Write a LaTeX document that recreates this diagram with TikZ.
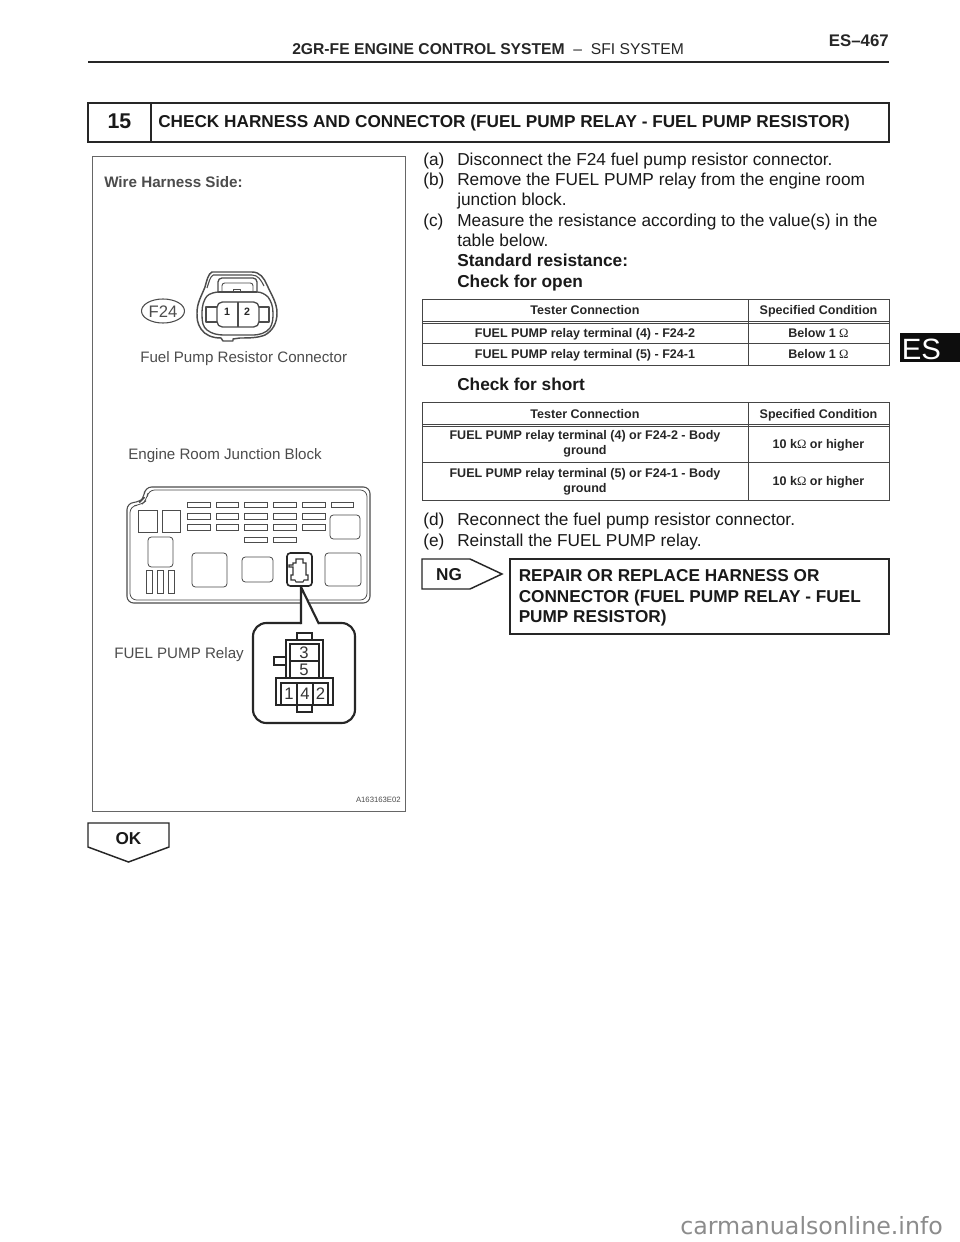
\documentclass[tikz,border=0pt]{standalone}
\usepackage{fontspec}
\setmainfont{Liberation Sans}
\newfontfamily\symfont{DejaVu Sans}
\newfontfamily\serifsym{Liberation Serif}
\definecolor{figgray}{gray}{0.3}
\definecolor{boxgray}{gray}{0.4}
\definecolor{rulegray}{gray}{0.27}
\newcommand{\Om}{{\serifsym\mdseries\fontsize{9.5}{9.5}\selectfont Ω}}
\begin{document}
\begin{tikzpicture}[x=0.75pt,y=-0.75pt,
  body/.style={anchor=base west,inner sep=0pt,font=\fontsize{12.95}{14}\selectfont,text=black!90},
  bodyb/.style={body,font=\fontsize{12.95}{14}\selectfont\bfseries},
  tcell/.style={anchor=center,inner sep=0pt,align=center,text height=6.8pt,text depth=0pt,font=\fontsize{9.4}{12}\selectfont\bfseries,text=black!85},
  tcellm/.style={anchor=center,inner sep=0pt,align=center,font=\fontsize{9.4}{12}\selectfont\bfseries,text=black!85},
  figlabel/.style={anchor=base west,inner sep=0pt,font=\fontsize{11.35}{13}\selectfont,text=figgray},
  pin/.style={anchor=center,inner sep=0pt,font=\fontsize{12.5}{13}\selectfont,text=black!80},
  fuse/.style={draw=figgray,line width=0.6pt},
  heavy/.style={draw=black!85,line width=1.5pt},
  tabline/.style={draw=rulegray,line width=0.75pt},
  arrowbox/.style={draw=black!85,line width=1.1pt,line join=miter},
  rel/.style={draw=black!85,line width=0.9pt}]
\useasboundingbox (0,0) rectangle (960,1242);
\fill[white] (0,0) rectangle (960,1242);

% page header
\node[anchor=base west,inner sep=0pt,font=\fontsize{11.75}{13}\selectfont,text=black!85] (hdr) at (292,54) {\textbf{2GR-FE ENGINE CONTROL SYSTEM}\ \ –\ \ SFI SYSTEM};
\node[anchor=base east,inner sep=0pt,font=\fontsize{12.6}{14}\selectfont\bfseries,text=black!85] (pg) at (889,46) {ES–467};
\draw[black!85,line width=1.6pt] (88,62) -- (889,62);
\fill[black!95] (900,333) rectangle (960,362);
\node[anchor=base west,inner sep=0pt,white,font=\fontsize{22}{24}\selectfont] (tab) at (901.5,359) {ES};

% step box
\draw[heavy] (88,103) rectangle (889,142);
\draw[heavy] (151,103) -- (151,142);
\node[anchor=center,inner sep=0pt,font=\fontsize{16}{18}\selectfont\bfseries,text=black!90] (num) at (119.5,121) {15};
\node[anchor=base west,inner sep=0pt,font=\fontsize{12.9}{14}\selectfont\bfseries,text=black!90] (title) at (158,127) {CHECK HARNESS AND CONNECTOR (FUEL PUMP RELAY - FUEL PUMP RESISTOR)};

% figure frame
\draw[boxgray,line width=0.75pt] (92,156) rectangle (405,811);
\node[anchor=base west,inner sep=0pt,font=\fontsize{11.4}{13}\selectfont\bfseries,text=figgray] (wh) at (104,187) {Wire Harness Side:};
\draw[figgray,line width=0.8pt] (163,311) ellipse (21.5 and 12);
\node[anchor=center,inner sep=0pt,font=\fontsize{12.5}{13}\selectfont,text=figgray] (f24) at (163,311.5) {F24};

% connector F24
\begin{scope}[figgray,line width=1.1pt,line join=round]
\draw (212,272) -- (252,272) .. controls (260,272) and (264,278) .. (267,285)
  .. controls (272,296) and (277,303) .. (277,313) .. controls (277,324) and (272,331) .. (265,335)
  .. controls (258,338) and (248,338) .. (240,338) -- (233,339) -- (233,341) -- (223,341) -- (221,338)
  .. controls (212,338) and (205,335) .. (201,329) .. controls (197,323) and (197,318) .. (197,313)
  .. controls (197,303) and (201,297) .. (205,287) .. controls (207,280) and (208,274) .. (212,272) -- cycle;
\draw[line width=0.8pt] (213,275) -- (252,275) .. controls (258,275) and (261,280) .. (264,286);
\draw[line width=0.8pt] (213,275) .. controls (210,277) and (209,282) .. (207,288);
\draw[line width=1pt,rounded corners=3] (218,292) -- (218,278) -- (257,278) -- (257,292);
\draw[line width=0.7pt,rounded corners=2] (222,292) -- (222,283) -- (253,283) -- (253,292);
\draw[line width=0.7pt] (233,292) -- (233,289) -- (240,289) -- (240,292);
\draw[line width=1pt] (218,292) -- (257,292);
\draw[line width=1pt] (218,292) .. controls (210,293) and (207,295) .. (205,299)
  .. controls (202,305) and (202,310) .. (202,315) .. controls (202,322) and (203,327) .. (207,330)
  .. controls (212,334) and (218,335) .. (224,335) -- (252,335)
  .. controls (260,335) and (266,333) .. (270,328) .. controls (273,323) and (273,318) .. (273,313)
  .. controls (273,306) and (271,301) .. (268,297) .. controls (265,294) and (261,292) .. (257,292);
\draw[line width=1pt,rounded corners=4] (217,302) rectangle (259,327);
\draw[line width=0.8pt] (238,302) -- (238,327);
\draw[line width=0.8pt] (217,307) -- (206,307) -- (206,322) -- (217,322);
\draw[line width=0.8pt] (259,307) -- (269,307) -- (269,322) -- (259,322);
\end{scope}
\node[anchor=center,inner sep=0pt,font=\fontsize{8}{9}\selectfont\bfseries,text=black!85] (c1) at (227,312) {1};
\node[anchor=center,inner sep=0pt,font=\fontsize{8}{9}\selectfont\bfseries,text=black!85] (c2) at (247,312) {2};

\node[figlabel] (l1) at (140,362) {Fuel Pump Resistor Connector};
\node[figlabel] (l2) at (128,459) {Engine Room Junction Block};
\node[figlabel] (l3) at (114,658) {FUEL PUMP Relay};
\node[anchor=base east,inner sep=0pt,font=\fontsize{5.8}{6}\selectfont,text=figgray] (l4) at (401,802) {A163163E02};

% junction block
\draw[figgray,line width=0.8pt,rounded corners=5] (127,503) -- (140,502) -- (144,498) -- (145,487) -- (370,487) -- (370,603) -- (127,603) -- cycle;
\draw[figgray,line width=0.6pt,rounded corners=5] (130,506) -- (141,505) -- (147,500) -- (148,490) -- (367,490) -- (367,600) -- (130,600) -- cycle;
\foreach \xa/\xb in {187/210,216/238,244/267,273/296,302/325,331/353}
  \draw[fuse] (\xa,502) rectangle (\xb,507);
\foreach \xa/\xb in {187/210,216/238,244/267,273/296,302/325}{
  \draw[fuse] (\xa,513) rectangle (\xb,519);
  \draw[fuse] (\xa,524) rectangle (\xb,530);}
\foreach \xa/\xb in {244/267,273/296}
  \draw[fuse] (\xa,537) rectangle (\xb,542);
\draw[fuse] (138,510) rectangle (157,532);
\draw[fuse] (162,510) rectangle (180,532);
\draw[fuse,rounded corners=2.5] (330,515) rectangle (360,539);
\draw[fuse,rounded corners=2.5] (148,537) rectangle (173,567);
\foreach \xa/\xb in {146/152,157/163,168/174}
  \draw[fuse] (\xa,570) rectangle (\xb,593);
\draw[fuse,rounded corners=2.5] (192,553) rectangle (227,587);
\draw[fuse,rounded corners=2.5] (242,557) rectangle (273,582);
\draw[fuse,rounded corners=2.5] (325,553) rectangle (361,586);
\draw[black!85,line width=1.2pt,rounded corners=2.5] (287,553) rectangle (312,586);
\draw[black!80,line width=0.8pt] (296,563) -- (296,559) -- (303,559) -- (303,563) -- (306,563) -- (306,575) -- (308,575) -- (308,580) -- (304,580) -- (303,582) -- (296,582) -- (295,580) -- (291,580) -- (291,575) -- (293,575) -- (293,567) -- (289,567) -- (289,565) -- (293,565) -- (293,563) -- cycle;

% relay callout
\fill[white] (301,623) -- (301,590) -- (303,590) -- (319,623) -- cycle;
\draw[black!85,line width=1.6pt,rounded corners=10] (301,623) -- (253,623) -- (253,723) -- (355,723) -- (355,623) -- (319,623);
\draw[black!85,line width=1.6pt] (301,624) -- (301,587) (319,624) -- (301,587);
\draw[rel] (297,640) -- (297,633) -- (312,633) -- (312,640);
\draw[rel] (286,678) -- (286,640) -- (323,640) -- (323,678);
\draw[rel] (290,644) rectangle (319,678);
\draw[rel] (290,661) -- (319,661);
\draw[rel] (286,657) -- (274,657) -- (274,665) -- (286,665);
\draw[rel] (276,705) -- (276,678) -- (333,678) -- (333,705) -- cycle;
\draw[rel] (281,683) rectangle (328,705);
\draw[rel] (297,683) -- (297,705) (313,683) -- (313,705);
\draw[rel] (297,705) -- (297,712) -- (312,712) -- (312,705);
\node[pin] (r3) at (304,652.5) {3};
\node[pin] (r5) at (304,669.5) {5};
\node[pin] (r1) at (289,694) {1};
\node[pin] (r4) at (305,694) {4};
\node[pin] (r2) at (320.5,694) {2};

% instructions
\node[body] (a) at (423,165) {(a)}; \node[body] (a1) at (457,165) {Disconnect the F24 fuel pump resistor connector.};
\node[body] (b) at (423,185) {(b)}; \node[body] (b1) at (457,185) {Remove the FUEL PUMP relay from the engine room};
\node[body] (b2) at (457,205) {junction block.};
\node[body] (c) at (423,226) {(c)}; \node[body] (c1) at (457,226) {Measure the resistance according to the value(s) in the};
\node[body] (c2) at (457,246) {table below.};
\node[bodyb] (s) at (457,266) {Standard resistance:};
\node[bodyb] (o) at (457,287) {Check for open};
\node[bodyb] (cs) at (457,390) {Check for short};
\node[body] (d) at (423,525) {(d)}; \node[body] (d1) at (457,525) {Reconnect the fuel pump resistor connector.};
\node[body] (e) at (423,546) {(e)}; \node[body] (e1) at (457,546) {Reinstall the FUEL PUMP relay.};

% table open
\draw[tabline] (422,299.5) rectangle (889,365);
\draw[tabline] (748,299.5) -- (748,365);
\draw[tabline] (422,321) -- (889,321) (422,323) -- (889,323);
\draw[tabline] (422,343) -- (889,343);
\node[tcell] (t11) at (585,310) {Tester Connection};
\node[tcell] (t12) at (818.5,310) {Specified Condition};
\node[tcell] (t21) at (585,332.5) {FUEL PUMP relay terminal (4) - F24-2};
\node[tcell] (t22) at (818.5,332.5) {Below 1 \Om};
\node[tcell] (t31) at (585,354) {FUEL PUMP relay terminal (5) - F24-1};
\node[tcell] (t32) at (818.5,354) {Below 1 \Om};

% table short
\draw[tabline] (422,402.5) rectangle (889,500);
\draw[tabline] (748,402.5) -- (748,500);
\draw[tabline] (422,424) -- (889,424) (422,426) -- (889,426);
\draw[tabline] (422,462) -- (889,462);
\node[tcell] (u11) at (585,413.5) {Tester Connection};
\node[tcell] (u12) at (818.5,413.5) {Specified Condition};
\node[tcellm] (u21) at (585,444) {FUEL PUMP relay terminal (4) or F24-2 - Body\\[-0.5pt]ground};
\node[tcell] (u22) at (818.5,443.5) {10 k\Om\ or higher};
\node[tcellm] (u31) at (585,481.5) {FUEL PUMP relay terminal (5) or F24-1 - Body\\[-0.5pt]ground};
\node[tcell] (u32) at (818.5,481) {10 k\Om\ or higher};

% NG arrow and repair box
\draw[arrowbox] (422,559) -- (470,559) -- (502,574) -- (470,589) -- (422,589) -- cycle;
\node[anchor=center,inner sep=0pt,font=\fontsize{12.9}{14}\selectfont\bfseries,text=black!90] (ng) at (449,574.5) {NG};
\draw[heavy] (510,559) rectangle (889,634);
\node[anchor=north west,inner sep=0pt,align=left,font=\fontsize{12.9}{15.3}\selectfont\bfseries,text=black!90] (rep) at (518.5,569.5) {REPAIR OR REPLACE HARNESS OR\\CONNECTOR (FUEL PUMP RELAY - FUEL\\PUMP RESISTOR)};

% OK arrow
\draw[arrowbox] (88,823) -- (169,823) -- (169,847) -- (128.5,862) -- (88,847) -- cycle;
\node[anchor=center,inner sep=0pt,font=\fontsize{12.9}{14}\selectfont\bfseries,text=black!90] (ok) at (128.5,839) {OK};

% site mark
\node[anchor=base west,inner sep=0pt,font=\symfont\fontsize{17.8}{19}\selectfont,text=black!45] (mark) at (680,1234) {carmanualsonline.info};
\end{tikzpicture}
\end{document}
